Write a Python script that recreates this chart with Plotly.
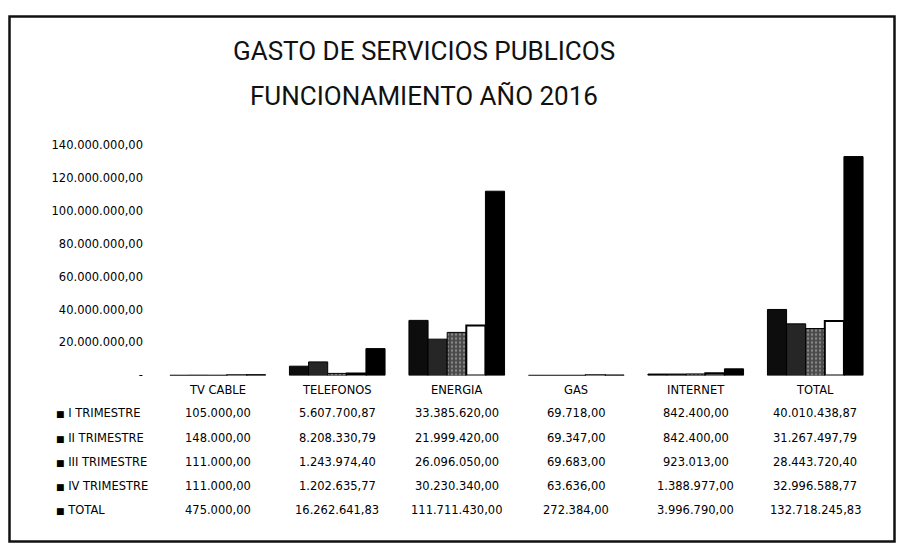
import plotly.graph_objects as go

categorias = ['TV CABLE', 'TELEFONOS', 'ENERGIA', 'GAS', 'INTERNET', 'TOTAL']

trim_1 = [105000.00, 5607700.87, 33385620.00, 69718.00, 842400.00, 40010438.87]
trim_2 = [148000.00, 8208330.79, 21999420.00, 69347.00, 842400.00, 31267497.79]
trim_3 = [111000.00, 1243974.40, 26096050.00, 69683.00, 923013.00, 28443720.40]
trim_4 = [111000.00, 1202635.77, 30230340.00, 63636.00, 1388977.00, 32996588.77]
total = [475000.00, 16262641.83, 111711430.00, 272384.00, 3996790.00, 132718245.83]

series = ['I TRIMESTRE', 'II TRIMESTRE', 'III TRIMESTRE', 'IV TRIMESTRE', 'TOTAL']

tick_vals = [0, 20e6, 40e6, 60e6, 80e6, 100e6, 120e6, 140e6]
tick_text = ['-', '20.000.000,00', '40.000.000,00', '60.000.000,00', '80.000.000,00',
             '100.000.000,00', '120.000.000,00', '140.000.000,00']


def fmt(v):
    s = f'{v:,.2f}'
    return s.replace(',', '#').replace('.', ',').replace('#', '.')


# la pagina tiene 8px de margen en el body
OFF = 8
W = 904 - 2 * OFF
H = 558 - 2 * OFF


def px(x):
    return (x - OFF) / W


def py(y):
    return 1 - (y - OFF) / H


fig = go.Figure()

estilos = [
    dict(color='#0d0d0d', line=dict(color='#000000', width=1)),
    dict(color='#262626', line=dict(color='#000000', width=1)),
    dict(color='#4a4a4a', line=dict(color='#000000', width=1),
         pattern=dict(shape='.', fgcolor='#d0d0d0', size=4, solidity=0.25)),
    dict(color='#ffffff', line=dict(color='#000000', width=2)),
    dict(color='#000000', line=dict(color='#000000', width=1)),
]

for nombre, valores, marker in zip(series, [trim_1, trim_2, trim_3, trim_4, total], estilos):
    fig.add_trace(go.Bar(x=categorias, y=valores, name=nombre, marker=marker))

fuente = dict(family='DejaVu Sans', size=11.5, color='#000000')

annotations = []
# encabezados de la tabla
for cat in categorias:
    annotations.append(dict(x=cat, xref='x', y=py(393), yref='paper', text=cat,
                            showarrow=False, font=fuente, xanchor='center', yanchor='middle'))

filas_y = [417, 442, 467, 492, 516]
for nombre, valores, fy in zip(series, [trim_1, trim_2, trim_3, trim_4, total], filas_y):
    annotations.append(dict(x=px(54), xref='paper', y=py(fy), yref='paper',
                            text='<span style="font-size:9px">■</span> ' + nombre,
                            showarrow=False, font=fuente, xanchor='left', yanchor='middle'))
    for cat, v in zip(categorias, valores):
        annotations.append(dict(x=cat, xref='x', y=py(fy), yref='paper', text=fmt(v),
                                showarrow=False, font=fuente, xanchor='center', yanchor='middle'))

# titulo
titulo = dict(family='Roboto', size=26, color='#111111')
annotations.append(dict(x=px(424), xref='paper', y=py(45), yref='paper',
                        text='GASTO DE SERVICIOS PUBLICOS', showarrow=False,
                        font=titulo, xanchor='center', yanchor='middle'))
annotations.append(dict(x=px(424), xref='paper', y=py(91), yref='paper',
                        text='FUNCIONAMIENTO AÑO 2016', showarrow=False,
                        font=titulo, xanchor='center', yanchor='middle'))

fig.update_layout(
    width=W,
    height=H,
    margin=dict(l=0, r=0, t=0, b=0),
    paper_bgcolor='white',
    plot_bgcolor='white',
    barmode='group',
    bargap=0.2,
    bargroupgap=0,
    showlegend=False,
    annotations=annotations,
    shapes=[
        dict(type='rect', xref='paper', yref='paper',
             x0=1.5 / W, x1=1 - 1.5 / W, y0=1.5 / H, y1=1 - 1.5 / H,
             line=dict(color='#111111', width=2.5), fillcolor='rgba(0,0,0,0)'),
    ],
)

fig.update_xaxes(
    domain=[px(158), px(875)],
    showticklabels=False,
    showgrid=False,
    zeroline=False,
    showline=False,
)

fig.update_yaxes(
    domain=[py(378), py(141)],
    range=[0, 140e6],
    tickvals=tick_vals,
    ticktext=tick_text,
    tickfont=dict(family='DejaVu Sans', size=11.5, color='#000000'),
    showgrid=False,
    zeroline=False,
    showline=False,
    ticklabelstandoff=14,
)

fig.write_html('out.html')
